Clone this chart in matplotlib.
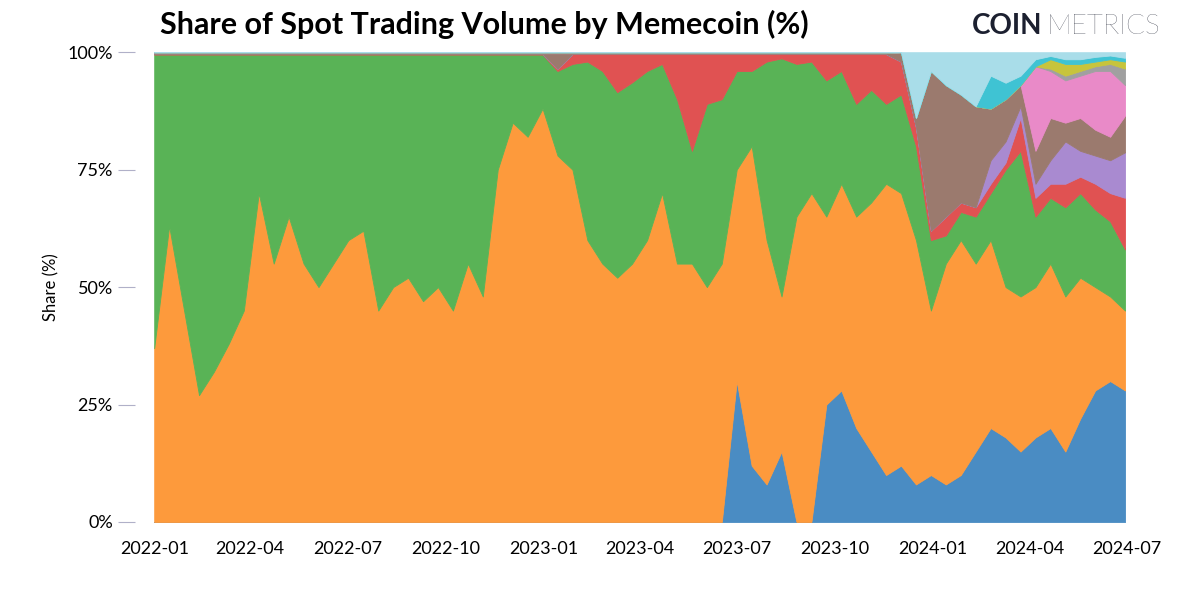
import numpy as np, pandas as pd
import matplotlib
matplotlib.use("Agg")
import matplotlib.pyplot as plt
import matplotlib.dates as mdates
from matplotlib.ticker import FuncFormatter

N = 66
dates = pd.date_range("2022-01-01", periods=N, freq="14D")
# cumulative layer tops (%), bottom to top
blue_share = [0]*39 + [30,12,8,15,0,0,25,28,20,15,10,12,8,10,8,10,15,20,18,15,18,20,15,22,28,30,28]
orange_top = [37,63,45,27,32,38,45,70,55,65,55,50,55,60,62,45,50,52,47,50,45,55,48,75,85,82,88,78,75,60,55,52,55,60,70,55,55,50,55,75,80,60,48,65,70,65,72,65,68,72,70,60,45,55,60,55,60,50,48,50,55,48,52,50,48,45]
green_top = [99.5]*27 + [96,97.5,98,96,91.5,93.6,96,97.5,90,79,89,90,96,96,98,98.7,97.5,98,94,96,89,92,89,
             91,80,60,61,66,65,70,75,79,65,69,67,70,66.5,64,58]
red_top = [99.6]*27 + [96.5] + [99.6]*22 + [98,84,62,65,68,67,72,76.5,86,69,72,72,73.5,72,70,69]
purple_top = [99.6]*27 + [96.5] + [99.6]*22 + [98,84,62,65,68,67,77,81,88.5,72,77,81,79,78,77,78.7]
brown_top = [99.8]*50 + [100,86,96,93,91,88.5,88,90,93,79,86,85,86,83.5,82,86.5]
pink_top = [99.8]*50 + [100,86,96,93,91,88.5,88,90,93,97,96,94,95,96,96,93]
grey_top = [100]*50 + [100,86,96,93,91,88.5,88,90,93,97,96.5,95,96,97,97.5,96.5]
olive_top = [100]*50 + [100,86,96,93,91,88.5,88,90,93,97,98.5,97.5,97.5,98,98.5,98]
cyan_top = [100]*50 + [100,86,96,93,91,88.5,95,93.5,95,98.5,99.2,98.5,98.5,99,99.3,98.8]
lightblue_top = [100]*N

tops = [np.array(blue_share, float)] + [np.array(t, float) for t in
        [orange_top, green_top, red_top, purple_top, brown_top, pink_top,
         grey_top, olive_top, cyan_top, lightblue_top]]
parts = [tops[0]] + [np.clip(tops[i] - tops[i - 1], 0, None) for i in range(1, len(tops))]
colors = ["#4a8cc3", "#fd9a3c", "#59b356", "#e05252", "#a98ad0", "#9b7a6e",
          "#e98ac8", "#a0a0a0", "#c7c43c", "#3fc3d3", "#a9dde9"]

fig = plt.figure(figsize=(12, 6), dpi=100)
ax = fig.add_axes([0.1125, 0.13, 0.8375, 0.783])
ax.stackplot(dates, *parts, colors=colors, linewidth=0.6, edgecolor="face")
ax.set_ylim(0, 100)
ax.set_xlim(pd.Timestamp("2021-12-14"), pd.Timestamp("2024-07-13"))
ax.set_yticks([0, 25, 50, 75, 100])
ax.yaxis.set_major_formatter(FuncFormatter(lambda v, p: f"{int(v)}%"))
ax.xaxis.set_major_locator(mdates.MonthLocator(bymonth=[1, 4, 7, 10]))
ax.xaxis.set_major_formatter(mdates.DateFormatter("%Y-%m"))
for s in ax.spines.values():
    s.set_visible(False)
ax.tick_params(axis="y", length=12, color="#b0b0c8", labelsize=13, pad=4)
ax.tick_params(axis="x", length=0, labelsize=13, pad=14)
for l in ax.get_xticklabels() + ax.get_yticklabels():
    l.set_fontfamily("Lato")
ax.set_ylabel("Share (%)", fontsize=12, fontfamily="Lato", labelpad=6)
fig.text(0.133, 0.935, "Share of Spot Trading Volume by Memecoin (%)", fontsize=22,
         fontweight="bold", fontfamily="Lato", ha="left", va="bottom")
fig.text(0.81, 0.935, "COIN", fontsize=20, fontweight="bold", fontfamily="Lato",
         color="#1c2030", ha="left", va="bottom")
fig.text(0.872, 0.935, "METRICS", fontsize=20, fontweight="light", fontfamily="Lato",
         color="#1c2030", ha="left", va="bottom")
fig.savefig("out.png")
